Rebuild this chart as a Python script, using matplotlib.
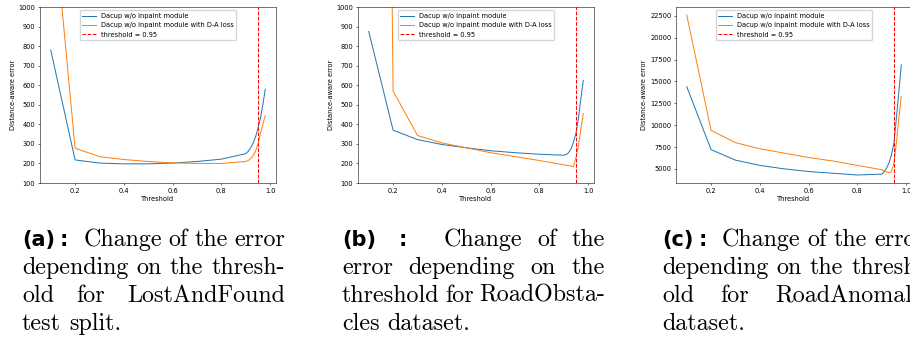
import matplotlib
matplotlib.use("Agg")
import matplotlib.pyplot as plt
from matplotlib.font_manager import FontProperties

# ---------------- data ----------------
thresholds = [0.1, 0.2, 0.3, 0.4, 0.5, 0.6, 0.7, 0.8, 0.9,
              0.91, 0.92, 0.93, 0.94, 0.95, 0.96, 0.97, 0.98]

a_plain = [780, 218, 202, 198, 198, 202, 210, 222, 250,
           262, 280, 303, 335, 380, 430, 500, 580]
a_da = [1610, 278, 235, 220, 210, 203, 200, 200, 210,
        215, 225, 240, 262, 300, 350, 400, 445]

b_plain = [875, 370, 322, 297, 280, 265, 255, 247, 242,
           246, 255, 275, 310, 355, 430, 530, 625]
b_da = [12000, 570, 343, 305, 280, 255, 235, 215, 193,
        191, 189, 187, 184, 230, 290, 375, 455]

c_plain = [14400, 7200, 6000, 5400, 5000, 4700, 4500, 4300, 4400,
           4700, 5100, 5700, 6600, 8000, 10800, 13800, 16900]
c_da = [22600, 9400, 8000, 7300, 6800, 6300, 5900, 5400, 4900,
        4800, 4650, 4550, 4700, 5700, 8000, 10800, 13300]

series_labels = ["Dacup w/o inpaint module",
                 "Dacup w/o inpaint module with D-A loss"]
thr_value = 0.95
thr_label = "threshold = 0.95"
xlabel = "Threshold"
ylabel = "Distance-aware error"

xticks = [0.2, 0.4, 0.6, 0.8, 1.0]
yticks_ab = [100, 200, 300, 400, 500, 600, 700, 800, 900, 1000]
yticks_c = [5000, 7500, 10000, 12500, 15000, 17500, 20000, 22500]

captions = [
    [["(a)", ":", "Change", "of", "the", "error"],
     ["depending", "on", "the", "thresh-"],
     ["old", "for", "LostAndFound"],
     ["test", "split."]],
    [["(b)", ":", "Change", "of", "the"],
     ["error", "depending", "on", "the"],
     ["threshold", "for", "RoadObsta-"],
     ["cles", "dataset."]],
    [["(c)", ":", "Change", "of", "the", "error"],
     ["depending", "on", "the", "thresh-"],
     ["old", "for", "RoadAnomaly"],
     ["dataset."]],
]

# ---------------- figure ----------------
W, H = 910, 338
fig = plt.figure(figsize=(W / 100, H / 100), dpi=100)
fig.patch.set_facecolor("white")

s = 0.476
fs = 10 * s
ax_lefts = [40, 358, 676]
ax_w, ax_top, ax_bot = 236, 7, 183

panels = [(a_plain, a_da, (100, 1000), yticks_ab),
          (b_plain, b_da, (100, 1000), yticks_ab),
          (c_plain, c_da, None, yticks_c)]

for left, (p, d, ylim, yt) in zip(ax_lefts, panels):
    ax = fig.add_axes([left / W, 1 - ax_bot / H, ax_w / W, (ax_bot - ax_top) / H])
    ax.plot(thresholds, p, color="#1f77b4", lw=1.5 * s, label=series_labels[0])
    ax.plot(thresholds, d, color="#ff7f0e", lw=1.5 * s, label=series_labels[1])
    ax.axvline(thr_value, color="red", ls="--", lw=1.5 * s, label=thr_label)
    if ylim is not None:
        ax.set_ylim(*ylim)
    ax.set_xticks(xticks)
    ax.set_yticks(yt)
    ax.tick_params(labelsize=fs, length=3.5 * s, width=0.8 * s, pad=3.5 * s)
    for sp in ax.spines.values():
        sp.set_linewidth(0.8 * s)
    ax.set_xlabel(xlabel, fontsize=fs, labelpad=4 * s)
    ax.set_ylabel(ylabel, fontsize=fs, labelpad=4 * s)
    ax.legend(loc="upper center", fontsize=fs)

# ---------------- captions (justified) ----------------
serif_size = 17.3
serif = FontProperties(family="cmr10", size=serif_size)
bold = FontProperties(family="DejaVu Sans", weight="bold", size=15.0)
space_nat = 0.333 * serif_size * 100 / 72

col_lefts = [22, 342, 662]
col_w = 263
baselines = [246, 274, 302, 330]

fig.canvas.draw()
renderer = fig.canvas.get_renderer()

for cx, cap in zip(col_lefts, captions):
    for li, words in enumerate(cap):
        texts = []
        for wi, wd in enumerate(words):
            fp = bold if (li == 0 and wi < 2) else serif
            t = fig.text(0, 1 - baselines[li] / H, wd, fontproperties=fp,
                         va="baseline", ha="left", color="black")
            texts.append(t)
        widths = [t.get_window_extent(renderer).width for t in texts]
        # gaps: (natural, stretch weight, shrinkable)
        gaps = []
        for gi in range(len(words) - 1):
            if li == 0 and gi == 0:
                gaps.append((5.0, 2.4, False))
            elif li == 0 and gi == 1:
                gaps.append((15.0, 3.0, False))
            else:
                gaps.append((space_nat, 1.0, True))
        last = (li == len(cap) - 1)
        gsize = [g[0] for g in gaps]
        if not last and gaps:
            free = col_w - sum(widths) - sum(gsize)
            if free >= 0:
                tstr = free / sum(g[1] for g in gaps)
                gsize = [g[0] + g[1] * tstr for g in gaps]
            else:
                shr = [i for i, g in enumerate(gaps) if g[2]]
                if shr:
                    d = free / len(shr)
                    for i in shr:
                        gsize[i] = max(gaps[i][0] + d, gaps[i][0] * 0.4)
        x = cx
        for i, t in enumerate(texts):
            t.set_x(x / W)
            x += widths[i]
            if i < len(gsize):
                x += gsize[i]

fig.savefig("out.png", dpi=100)
